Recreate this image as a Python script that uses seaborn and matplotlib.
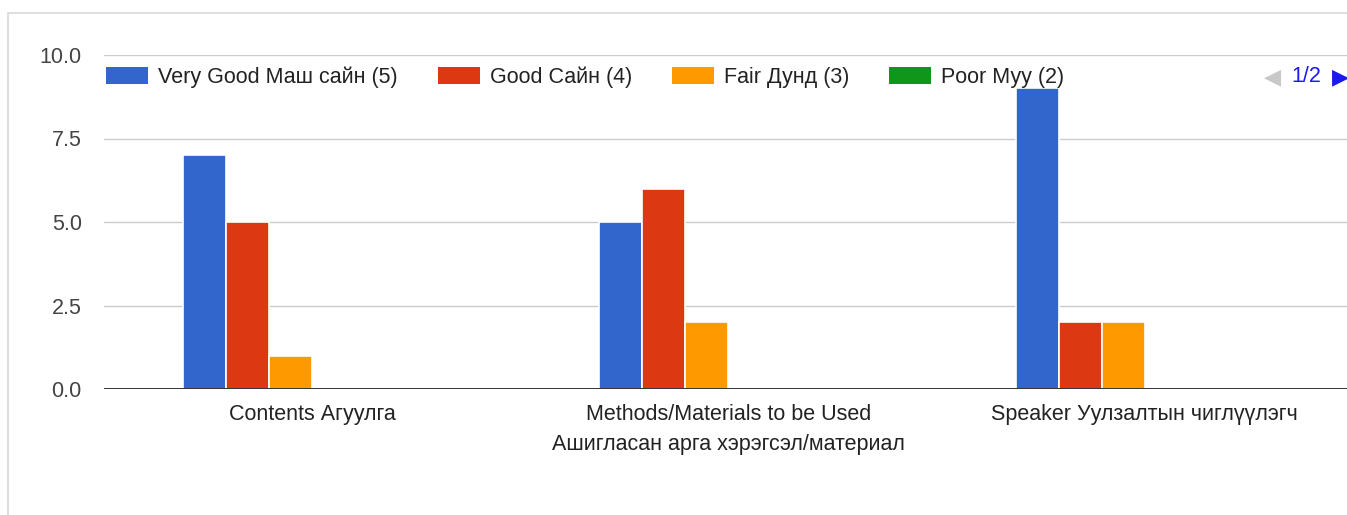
import pandas as pd
import matplotlib.pyplot as plt
import seaborn as sns
from matplotlib.patches import Patch, Rectangle

# ---- data ----
categories = ['Contents Агуулга',
              'Methods/Materials to be Used\nАшигласан арга хэрэгсэл/материал',
              'Speaker Уулзалтын чиглүүлэгч']
series = ['Very Good Маш сайн (5)', 'Good Сайн (4)', 'Fair Дунд (3)',
          'Poor Муу (2)', 'Very Poor Маш муу (1)', 'N/A']
very_good = [7, 5, 9]
good = [5, 6, 2]
fair = [1, 2, 2]
poor = [0, 0, 0]
very_poor = [0, 0, 0]
other = [0, 0, 0]
colors = ['#3366cc', '#dc3912', '#ff9900', '#109618', '#990099', '#0099c6']
y_ticks = [0, 2.5, 5, 7.5, 10]

rows = []
for name, vals in zip(series, [very_good, good, fair, poor, very_poor, other]):
    for cat, v in zip(categories, vals):
        rows.append({'Category': cat, 'Rating': name, 'Count': v})
df = pd.DataFrame(rows)

sns.set_theme(style='white')
plt.rcParams['font.family'] = ['Liberation Sans', 'DejaVu Sans']
FS = 15.5

W, H = 1347, 515
fig = plt.figure(figsize=(W / 100, H / 100), dpi=100)
ax = fig.add_axes([104 / W, (H - 389) / H, (1353 - 104) / W, (389 - 55) / H])

sns.barplot(data=df, x='Category', y='Count', hue='Rating', order=categories,
            hue_order=series, palette=colors, width=0.62, ax=ax,
            edgecolor='white', linewidth=1.2, legend=False, saturation=1)

ax.set_xlim(-0.5, 2.5)
ax.set_ylim(0, 10)
ax.set_yticks(y_ticks)
ax.set_yticklabels([f'{t:.1f}' for t in y_ticks])
ax.set_axisbelow(True)
ax.yaxis.grid(True, color='#cccccc', linewidth=1)
ax.axhline(0, color='#333333', linewidth=1.4, zorder=3)
for s in ax.spines.values():
    s.set_visible(False)
ax.set_xlabel('')
ax.set_ylabel('')
ax.tick_params(axis='y', length=0, pad=16, labelsize=FS, labelcolor='#444444')
ax.tick_params(axis='x', length=0, pad=11, labelsize=FS, labelcolor='#222222')
for lbl in ax.get_xticklabels():
    lbl.set_linespacing(1.55)
    lbl.set_verticalalignment('top')

# legend: first page shows four entries
handles = [Patch(facecolor=c, edgecolor='none') for c in colors[:4]]
fig.legend(handles, series[:4], loc='center left',
           bbox_to_anchor=(106 / W, (H - 77) / H), ncol=4, frameon=False,
           fontsize=FS, handlelength=1.95, handleheight=0.85,
           handletextpad=0.47, columnspacing=1.85, borderpad=0, borderaxespad=0,
           labelcolor='#222222')

# pager "◀ 1/2 ▶"
fig.text(1272 / W, (H - 77) / H, '◀', ha='center', va='center', fontsize=16,
         color='#c8c8c8', family=['DejaVu Sans'])
fig.text(1306 / W, (H - 77) / H, '1/2', ha='center', va='center',
         fontsize=FS, color='#1a1aee')
fig.text(1341 / W, (H - 77) / H, '▶', ha='center', va='center', fontsize=16,
         color='#1a1aee', family=['DejaVu Sans'])

# card frame
fig.add_artist(Rectangle((8 / W, -0.1), 1.2, (H - 13) / H + 0.1,
                         transform=fig.transFigure, fill=False,
                         edgecolor='#d8d8d8', linewidth=1.2))

fig.savefig('out.png', dpi=100)
